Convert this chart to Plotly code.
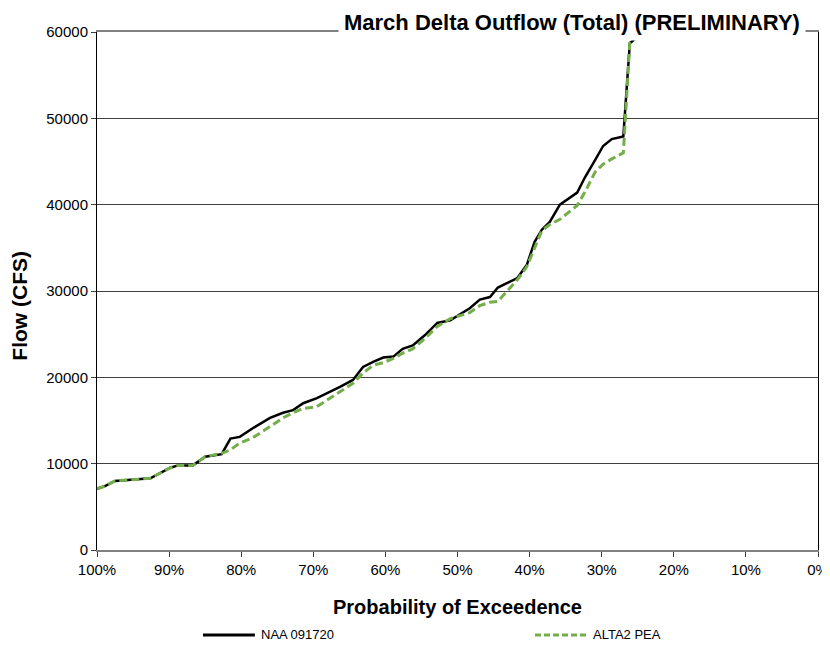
import plotly.graph_objects as go

# ---- data ----
exceedance = [100.0, 98.9, 97.5, 92.6, 89.9, 88.8, 86.7, 85.0, 82.7, 81.5,
              80.2, 78.4, 76.0, 74.2, 72.8, 71.4, 69.5, 67.7, 66.3, 64.5,
              63.1, 61.7, 60.3, 58.9, 57.6, 56.2, 54.5, 52.8, 51.0, 48.3,
              46.9, 45.5, 44.4, 41.7, 40.4, 39.3, 38.3, 37.2, 35.8, 33.4,
              32.3, 30.9, 29.8, 28.6, 27.0, 26.1, 24.4, 22.0]

naa_flow = [7100, 7400, 8000, 8300, 9500, 9800, 9800, 10800, 11100, 12900,
            13100, 14100, 15300, 15900, 16200, 17000, 17600, 18300, 18900, 19700,
            21200, 21800, 22300, 22400, 23300, 23700, 24900, 26300, 26600, 28000,
            29000, 29300, 30400, 31500, 33000, 35700, 37100, 38000, 40000, 41400,
            43200, 45200, 46800, 47600, 47900, 58700, 59900, 64000]

alt_flow = [7100, 7400, 8000, 8300, 9500, 9800, 9800, 10800, 11200, 11600,
            12400, 13000, 14300, 15300, 15900, 16400, 16600, 17600, 18300, 19300,
            20500, 21400, 21700, 22200, 22800, 23300, 24500, 25900, 26800, 27500,
            28300, 28700, 28800, 31300, 32800, 35000, 37000, 37700, 38300, 39900,
            41500, 43800, 44700, 45300, 46000, 58700, 59900, 64000]

series_names = ["NAA 091720", "ALTA2 PEA"]
title_text = "March Delta Outflow (Total) (PRELIMINARY)"

FONT = "Liberation Sans, Arial, sans-serif"
BLACK = "black"
GREEN = "#74AE4B"
GREEN_DASH = "8px,4px"

fig = go.Figure()
fig.add_trace(go.Scatter(x=exceedance, y=naa_flow, mode="lines", name=series_names[0],
                         line=dict(color=BLACK, width=2.5)))
fig.add_trace(go.Scatter(x=exceedance, y=alt_flow, mode="lines", name=series_names[1],
                         line=dict(color=GREEN, width=3, dash=GREEN_DASH)))

# title sits in a white box over the top-right of the plot frame
fig.add_annotation(text="<b>" + title_text + "</b>", xref="paper", yref="paper",
                   x=0.659, y=1.018, xanchor="center", yanchor="middle", showarrow=False,
                   font=dict(family=FONT, size=22, color="black"),
                   bgcolor="white", borderpad=5)

# y title sits a bit below the middle of the axis, like the original
fig.add_annotation(text="<b>Flow (CFS)</b>", xref="paper", yref="paper",
                   x=-0.108, y=0.472, textangle=-90, showarrow=False,
                   xanchor="center", yanchor="middle", font=dict(family=FONT, size=21))

# legend drawn by hand: the original uses longer line samples than plotly's legend
legend_y = -0.164
for name, color, dash, x0, x1 in [(series_names[0], BLACK, "solid", 0.147, 0.219),
                                  (series_names[1], GREEN, "6px,3px", 0.6075, 0.6796)]:
    fig.add_shape(type="line", xref="paper", yref="paper", x0=x0, x1=x1,
                  y0=legend_y, y1=legend_y, line=dict(color=color, width=3, dash=dash))
    fig.add_annotation(text=name, xref="paper", yref="paper", x=x1 + 0.006, y=legend_y,
                       xanchor="left", yanchor="middle", showarrow=False,
                       font=dict(family=FONT, size=13, color="black"))

# the page body adds an 8px offset, so the figure is a little smaller than the window
fig.update_layout(
    width=822, height=638,
    margin=dict(l=89, r=12, t=24, b=96, autoexpand=False),
    paper_bgcolor="white", plot_bgcolor="white",
    font=dict(family=FONT, size=15, color="black"),
    showlegend=False,
    xaxis=dict(range=[100, 0], dtick=10, ticksuffix="%", showgrid=False,
               showline=True, linecolor="#808080", linewidth=2, mirror=True,
               ticks="outside", ticklen=5, tickcolor="#404040", zeroline=False,
               automargin=False,
               title=dict(text="<b>Probability of Exceedence</b>", font=dict(size=20), standoff=23)),
    yaxis=dict(range=[0, 60000], dtick=10000, showgrid=True, gridcolor="#404040", gridwidth=1,
               showline=True, linecolor="black", linewidth=1, mirror=True,
               ticks="outside", ticklen=5, tickcolor="#404040", zeroline=False,
               tickformat="d", automargin=False),
)

fig.write_html("out.html")
